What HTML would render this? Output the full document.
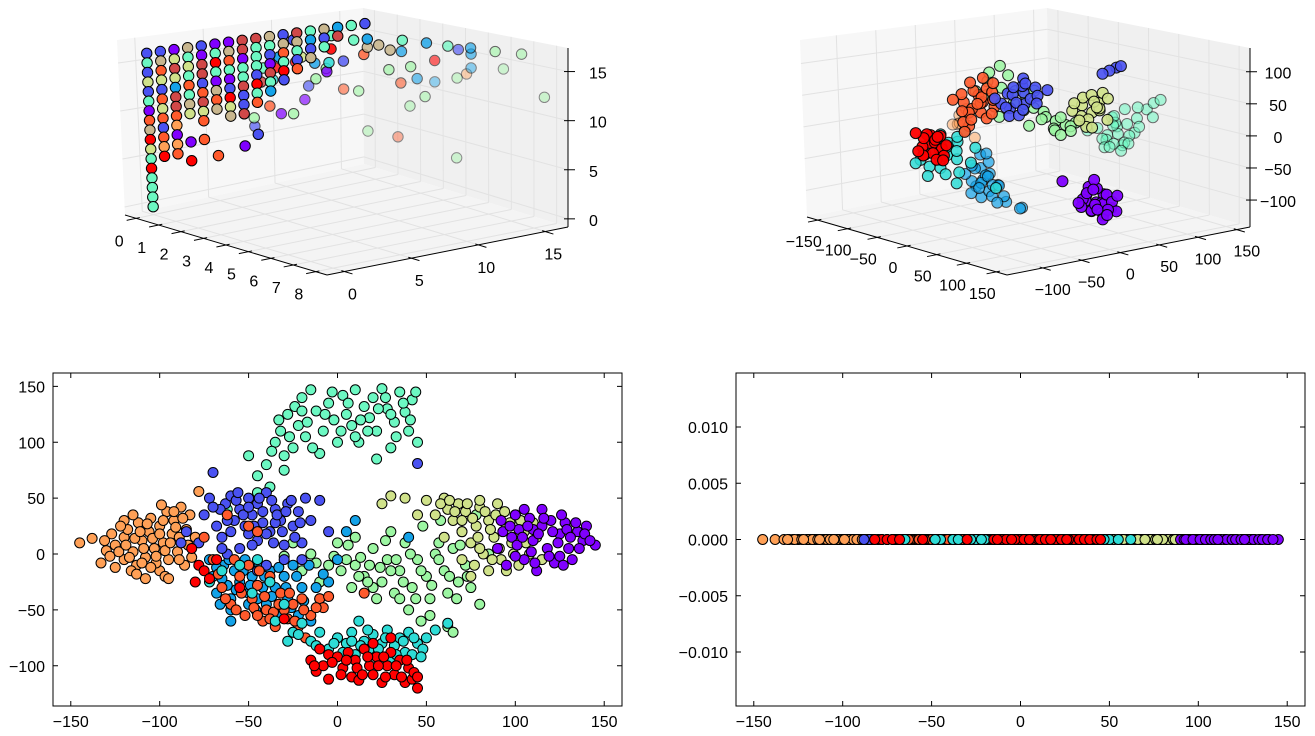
<!DOCTYPE html>
<html><head><meta charset="utf-8"><title>Scatter embeddings</title>
<style>
html,body{margin:0;padding:0;background:#fff;}
svg{display:block;font-family:"Liberation Sans",sans-serif;}
text{font-size:16px;fill:#000;}
</style></head>
<body>
<svg id="fig" width="1315" height="736" viewBox="0 0 1315 736" xmlns="http://www.w3.org/2000/svg">
<rect x="0" y="0" width="1315" height="736" fill="#fff"/>
</svg>
<script>
// ===== palette (style) =====
const palette = ['#8000ff','#4a52f2','#14a2e8','#2edcd6','#6cf8c2','#9cf6a2','#d0e28a','#ffa056','#ff5a2c','#ff0000','#c8b68e','#d04848'];

// ===== bottom-left 2D data (x, y) per cluster =====
const orangePts=[[-145,10],[-138,14],[-130,3],[-128,-2],[-125,8],[-120,15],[-120,-5],[-118,22],[-115,2],[-113,-10],[-112,28],[-110,12],[-108,-3],[-106,20],[-105,32],[-103,5],[-100,-15],[-100,25],[-98,10],[-96,38],[-95,-5],[-93,18],[-92,30],[-90,2],[-88,42],[-86,-10],[-85,22],[-83,35],[-82,-3],[-80,15],[-125,-12],[-116,-15],[-108,-22],[-97,-20],[-133,-8],[-110,-8],[-102,-8],[-115,35],[-95,-22],[-120,30],[-78,56]];
const orangeExtra=[[-127,18],[-123,2],[-119,8],[-117,-3],[-114,14],[-111,20],[-109,5],[-107,27],[-104,14],[-102,-2],[-100,18],[-98,30],[-97,3],[-94,10],[-91,24],[-89,-5],[-87,32],[-84,8],[-122,25],[-131,12],[-113,-18],[-105,-12],[-92,38],[-99,44],[-89,15]];
const bluePts=[[-78,10],[-75,35],[-72,50],[-70,73],[-68,25],[-65,15],[-63,45],[-60,52],[-58,30],[-55,40],[-55,5],[-52,25],[-50,50],[-48,35],[-45,12],[-45,45],[-42,28],[-40,55],[-38,20],[-35,40],[-32,30],[-30,8],[-28,45],[-25,25],[-22,38],[-20,10],[-18,50],[-15,30],[-10,48],[-5,20],[-62,0],[-40,-10],[-30,-5],[45,81],[-85,20],[-50,18],[-35,28],[-45,-15],[-20,-5],[-88,10]];
const blueExtra=[[-66,40],[-62,30],[-60,20],[-57,48],[-53,35],[-50,42],[-47,25],[-44,50],[-42,38],[-40,18],[-37,48],[-34,35],[-31,20],[-29,38],[-26,48],[-24,15],[-21,28],[-56,55],[-48,8],[-36,10],[-65,5],[-70,42]];
const lightBluePts=[[-72,-5],[-70,-20],[-68,-35],[-66,-45],[-64,-10],[-62,-28],[-60,-40],[-58,-15],[-55,-25],[-52,-5],[-50,-35],[-48,-20],[-46,-50],[-44,-10],[-42,-30],[-40,-45],[-38,-15],[-35,-30],[-32,-55],[-30,-20],[-28,-40],[-25,-10],[-22,-55],[-20,-30],[-15,-60],[-10,-40],[-5,-25],[0,-5],[10,30],[5,20],[-60,-60],[40,15],[-25,-70],[-8,-18]];
const lightBlueExtra=[[-68,-12],[-65,-22],[-61,-5],[-57,-32],[-53,-15],[-49,-28],[-45,-40],[-41,-20],[-37,-38],[-33,-12],[-29,-30],[-26,-48],[-23,-20],[-19,-42],[-16,-10],[-12,-30],[-60,-50],[-50,-45]];
const cyanPts=[[-65,-15],[-55,-10],[-45,-5],[-38,-25],[-30,-45],[-25,-70],[-20,-62],[-15,-78],[-10,-70],[-5,-85],[0,-75],[5,-80],[8,-70],[10,-90],[12,-60],[15,-78],[18,-85],[20,-72],[22,-92],[25,-80],[28,-68],[30,-95],[32,-82],[35,-75],[38,-88],[40,-70],[42,-90],[45,-80],[48,-85],[50,-75],[55,-68],[62,-62],[-35,-60],[-48,-35],[-72,-25]];
const cyanExtra=[[-28,-78],[-22,-72],[-12,-82],[-2,-80],[3,-88],[13,-82],[17,-68],[27,-75],[33,-90],[37,-78],[43,-75],[47,-92],[23,-85],[8,-78]];
const mintPts=[[-35,100],[-32,110],[-30,88],[-28,125],[-25,95],[-22,115],[-20,140],[-18,105],[-15,147],[-12,128],[-10,90],[-8,110],[-5,135],[-2,120],[0,100],[3,142],[5,125],[8,115],[10,147],[12,100],[15,132],[18,122],[20,140],[22,110],[25,148],[28,130],[30,95],[32,118],[35,145],[38,127],[40,110],[42,138],[45,100],[-40,80],[-45,70],[-50,88],[-38,60],[-30,75],[22,85],[-45,55],[-62,40]];
const mintExtra=[[-33,120],[-27,105],[-24,132],[-17,118],[-14,95],[-7,125],[-3,145],[2,110],[6,135],[13,120],[17,110],[23,130],[27,140],[33,105],[37,135],[41,120],[44,145],[-20,128],[30,125],[-37,92],[10,105]];
const greenPts=[[-25,10],[-20,-15],[-15,0],[-10,-25],[-5,-10],[0,10],[5,-5],[8,-30],[10,15],[15,-20],[18,-10],[20,5],[22,-40],[25,-25],[28,-5],[30,20],[32,-35],[35,-15],[38,10],[40,-50],[42,-30],[45,-5],[48,25],[50,-20],[52,-40],[55,0],[58,30],[60,-15],[62,-35],[65,5],[68,-25],[70,20],[72,-10],[75,-30],[78,35],[80,-45],[85,0],[62,-65],[65,-70],[10,-10],[20,-30],[-30,-2],[-12,-8]];
const greenExtra=[[2,-15],[6,8],[13,-3],[17,-25],[24,-12],[27,12],[33,-5],[37,-25],[41,0],[44,-40],[47,-15],[53,-28],[57,-5],[63,-20],[67,-40],[69,8],[73,-20],[57,10],[47,-60],[52,-55],[35,-40],[30,-15],[-2,-2],[12,-20]];
const yellowGreenPts=[[25,45],[30,52],[38,50],[50,48],[55,35],[60,50],[62,40],[65,30],[68,45],[70,20],[72,38],[75,10],[78,25],[80,42],[82,0],[85,30],[88,15],[90,45],[92,-5],[95,25],[98,10],[100,35],[102,-10],[105,20],[108,0],[110,28],[115,-5],[75,-20],[85,-15],[95,-15],[60,15],[70,-5],[80,48],[45,35]];
const yellowGreenExtra=[[58,45],[63,48],[66,38],[73,45],[76,32],[79,15],[83,38],[86,22],[89,35],[91,5],[94,38],[97,28],[99,0],[103,30],[106,10],[112,15],[87,-5],[80,5],[70,30],[77,-10]];
const purplePts=[[90,5],[92,30],[95,-10],[98,15],[100,35],[102,22],[105,-5],[108,32],[110,12],[112,-15],[115,25],[118,5],[120,30],[122,-8],[125,18],[128,28],[130,5],[132,-5],[135,20],[138,12],[140,25],[145,8],[105,40],[115,40],[125,-2],[100,-2],[110,22]];
const purpleExtra=[[93,20],[97,25],[101,8],[104,15],[107,25],[109,2],[113,18],[116,32],[119,-2],[121,20],[124,10],[127,-10],[129,22],[131,15],[134,28],[136,5],[139,18],[142,12],[126,35],[111,-8]];
const redOrangePts=[[-75,15],[-70,-5],[-65,-30],[-60,-45],[-58,-5],[-55,-20],[-52,-55],[-50,-10],[-48,-40],[-45,-28],[-42,-60],[-40,-50],[-38,-20],[-35,-65],[-32,-35],[-30,-50],[-28,-58],[-25,-45],[-22,-65],[-20,-40],[-18,-75],[-15,-55],[-10,-40],[-5,-38],[-50,25],[-45,20],[-62,35],[0,-75],[15,-35],[-8,-48]];
const redOrangeExtra=[[-67,-18],[-63,-40],[-57,-50],[-54,-35],[-47,-48],[-44,-15],[-41,-38],[-36,-52],[-33,-45],[-27,-35],[-24,-60],[-19,-50],[-12,-48],[-45,-55],[-38,-58]];
const redPts=[[-80,-25],[-78,-10],[-75,-15],[-72,-22],[-68,-5],[-15,-95],[-12,-105],[-10,-85],[-8,-100],[-5,-90],[0,-92],[3,-102],[6,-88],[8,-110],[10,-95],[12,-113],[15,-85],[18,-100],[20,-108],[22,-92],[25,-115],[28,-100],[30,-88],[32,-108],[35,-95],[38,-115],[40,-102],[42,-112],[45,-120],[20,-80],[30,-75],[-30,-58],[-55,-30],[-82,5]];
const redExtra=[[-13,-100],[-3,-97],[2,-108],[5,-95],[11,-102],[14,-108],[17,-92],[23,-100],[27,-110],[33,-100],[36,-110],[39,-95],[43,-106],[26,-92],[-5,-112],[45,-110]];
// draw order and colour index of each cluster
const blSeries=[mintPts.concat(mintExtra),greenPts.concat(greenExtra),yellowGreenPts.concat(yellowGreenExtra),purplePts.concat(purpleExtra),orangePts.concat(orangeExtra),lightBluePts.concat(lightBlueExtra),bluePts.concat(blueExtra),redOrangePts.concat(redOrangeExtra),cyanPts.concat(cyanExtra),redPts.concat(redExtra)];
const blSeriesColor=[4,5,6,0,7,2,1,8,3,9];
const blXTicks=[-150,-100,-50,0,50,100,150];
const blYTicks=[-100,-50,0,50,100,150];
const brYValue=0;
const brYTicks=[-0.010,-0.005,0.000,0.005,0.010];

// ===== top-left 3D data =====
const tlColY=[0,1,2,3,4,5,6,7,8,9,10,11,12,13,14,15,16];
const tlColZ=[[16,15,14,13,12,11,10,9,8,7,6,5,4,3,2,1,0],[16,15,14,13,12,11,10,9,8,7,6,5],[16,15,14,13,12,11,10,9,8,7,6,5],[16,15,14,13,12,11,10,9,6,4],[16,15,14,13,12,11,10,9,8,6],[16,15,14,13,12,11,10,9,4],[16,15,14,13,12,11,10,9,8],[16,15,14,13,12,11,10,9,8,4.5],[16,15,14,13,12,11,10,9,5.5],[16,15,14,13,12,11,10],[16,15,14,13,12,11],[16,15,14,13,12],[16,15,14,13],[16,15,14],[16,15],[16],[16]];
const tlColC=[[1,4,1,6,1,4,0,8,10,9,6,4,9,4,4,4,4],[1,10,8,6,1,8,6,8,1,8,7,9],[0,6,11,6,2,11,11,8,7,0,7,8],[10,4,6,4,8,4,10,6,0,9],[1,0,11,11,1,8,11,6,8,8],[0,4,9,4,0,10,8,10,8],[0,10,8,4,0,1,9,6,10],[11,11,0,4,4,11,1,1,11,0],[11,4,4,4,1,9,4,8,1],[10,4,1,0,11,4,2],[1,10,8,4,9,1],[11,10,4,1,8],[4,2,1,10],[10,1,4],[2,11],[4],[1]];
const tlDeepX=[8,8.3,6.7,5.9,5,5.8,7.6,8.3,8,8.1,8.3,7.5,8,8,7,6,6,6,5,5,4,3,2,1,0.5,0.5,6,6,5,4,4.5,4,4,3.5,4,3,3,3,3,3.5,3,1,2,4,5,3,5,1.5,2,2,1.5,2.5,1,1.5,2,2.5];
const tlDeepY=[15.8,12.3,16.3,15.7,15.4,14.1,11.1,9.6,9.4,7.6,8.8,6.75,5,2.8,8.7,9.8,8.6,11.1,9.4,11,12,15.5,15.4,14.5,12.7,9.9,5.5,4.4,3.2,1.1,0.3,4,3.1,3.1,5.7,9.4,10.9,5.9,4.4,7.3,4.2,13.5,14.5,15.4,14.5,7.3,3.5,14.5,8,10,11,12,8,6,5,9];
const tlDeepZ=[12.3,16,16,16,16,16,16,16,15.5,15.5,7.9,13,10.6,11.6,13.3,14.4,14.2,16,14.9,14.9,15.8,15.5,15.3,15.1,15.6,15.7,14,14.4,13.1,11.2,10.8,11,11.2,11.7,14.2,14.8,15.2,15.4,15.1,14.7,13.9,15.2,14.4,15.7,16,15,14.4,14.7,15,14,15,15.5,14.5,14,13,13.5];
const tlDeepC=[5,5,5,5,2,2,2,7,5,2,5,5,8,5,5,2,8,9,5,5,2,2,4,2,4,1,5,8,0,5,1,5,0,8,5,1,8,9,9,5,3,4,10,4,1,2,1,10,6,3,9,10,2,4,11,0];
const tlXTicks=[0,1,2,3,4,5,6,7,8];
const tlYTicks=[0,5,10,15];
const tlZTicks=[0,5,10,15];

// ===== top-right 3D data (x, y, z) per cluster =====
const trPurple=[[40,55,-100],[50,60,-110],[60,62,-95],[45,70,-115],[55,50,-120],[65,58,-108],[35,62,-90],[52,72,-100],[48,48,-105],[62,70,-118],[42,60,-125],[58,55,-85],[70,65,-105],[30,58,-110],[55,65,-130],[45,52,-95],[20,40,-80],[60,50,-70],[68,72,-122],[38,50,-118],[35,70,-120],[50,75,-125],[65,50,-115],[75,68,-95],[40,45,-110],[58,62,-135],[48,58,-90],[68,60,-125]];
const trRed=[[-70,-60,-20],[-60,-55,-30],[-55,-65,-15],[-65,-70,-35],[-50,-60,-25],[-75,-55,-10],[-60,-50,-40],[-68,-65,-5],[-52,-70,-30],[-62,-58,-45],[-72,-68,-25],[-58,-62,-12],[-80,-60,-15],[-75,-65,-40],[-65,-50,-10],[-55,-55,-45],[-70,-75,-30],[-62,-45,-25],[-80,-70,-5],[-50,-65,-5]];
const trRedOrange=[[-110,15,20],[-95,25,5],[-105,30,30],[-90,10,15],[-100,20,40],[-115,25,0],[-85,20,25],[-100,5,10],[-108,35,15],[-92,30,-5],[-80,15,35],[-120,20,30],[-98,12,-15],[-88,28,45],[-125,35,45],[-110,40,55],[-95,40,35],[-85,35,15],[-105,10,-10],[-115,5,25],[-90,0,-20],[-80,30,55],[-120,40,10],[-100,45,20],[-85,5,0],[-70,20,10]];
const trCyan=[[-45,-55,-15],[-35,-65,-30],[-50,-60,-40],[-30,-55,-10],[-40,-70,-50],[-55,-50,-25],[-25,-60,-35],[-45,-65,0],[-35,-50,-60],[-60,-55,-45],[-20,-40,-20],[-50,-70,-20],[-30,-45,5],[-65,-65,-55],[0,-30,-80],[-55,-75,-65],[-45,-45,-30],[-70,-45,-30],[-25,-75,-55],[-15,-50,-40],[-60,-80,-40],[-35,-80,-20],[-50,-40,-10],[-75,-75,-50],[-20,-65,-70]];
const trLightBlue=[[-25,-30,-55],[-15,-35,-70],[-20,-40,-80],[-10,-30,-60],[-30,-38,-75],[-18,-25,-45],[-22,-45,-90],[-12,-40,-95],[-28,-28,-35],[-5,-35,-85],[10,-25,-100],[30,-20,-105],[20,-15,-110],[0,-20,-95],[-15,-30,-30],[-30,-20,-70],[-5,-45,-70],[-25,-50,-60],[-10,-20,-80],[-35,-25,-90],[-20,-20,-100],[-15,-45,-50],[0,-40,-60],[-40,-30,-55],[-5,-25,-105],[-25,-15,-85],[5,-30,-75]];
const trBlue=[[-10,-5,60],[5,5,45],[0,-10,40],[-15,5,55],[10,0,65],[-5,10,70],[8,-8,50],[-12,-12,45],[15,5,55],[60,80,100],[55,75,95],[50,70,90],[65,82,103],[-20,0,35],[-20,10,65],[-10,15,80],[0,10,75],[10,15,70],[20,10,60],[5,-15,30],[-5,5,25],[15,-5,40],[25,5,50],[-25,-10,50],[30,15,70]];
const trGreen=[[-40,10,60],[-30,20,55],[-20,10,40],[-10,15,30],[0,20,35],[10,25,30],[20,20,25],[30,25,20],[40,30,15],[50,35,20],[-50,0,70],[-45,-5,50],[20,30,5],[35,40,10],[-25,-5,20],[5,10,10],[45,20,30],[-35,15,80],[-60,10,80],[-55,20,90],[-20,25,50],[0,30,15],[15,35,0],[25,35,-5],[55,25,10],[-5,25,60],[-70,0,50]];
const trYellowGreen=[[35,55,40],[45,60,30],[40,50,25],[50,65,45],[30,60,50],[45,55,20],[55,62,35],[38,65,55],[25,50,30],[48,50,10],[60,58,40],[42,62,5],[50,70,60],[55,55,50],[30,55,15],[65,65,55],[40,70,35],[35,45,45],[60,68,20]];
const trMint=[[60,55,10],[70,60,0],[80,65,15],[90,70,20],[100,75,30],[110,80,45],[75,55,-5],[85,62,5],[65,70,25],[95,60,-10],[105,68,10],[55,65,-10],[80,75,40],[115,85,55],[50,50,5],[90,55,25],[70,68,-15],[100,65,5],[120,90,60],[110,70,20],[95,80,45],[85,70,-10],[75,65,30],[65,60,-20],[105,60,-5],[80,55,-15],[120,80,35],[60,75,10],[90,62,-20]];
const trOrange=[[-75,-20,0],[-85,-10,10],[-70,-15,-10],[-60,-10,-20],[-65,-25,5],[-80,-5,20],[-90,-15,-5]];
const trSeries=[trMint,trOrange,trLightBlue,trGreen,trYellowGreen,trCyan,trRedOrange,trBlue,trRed,trPurple];
const trSeriesColor=[4,7,2,5,6,3,8,1,9,0];
const trSeriesAlpha=[0.55,0.5,0.7,0.85,0.9,0.85,0.9,0.9,0.95,0.95];
const trXTicks=[-150,-100,-50,0,50,100,150];
const trYTicks=[-100,-50,0,50,100,150];
const trZTicks=[-100,-50,0,50,100];

// ===== helpers =====
const NS='http://www.w3.org/2000/svg';
const svg=document.getElementById('fig');
function mk(tag,attrs,parent){const e=document.createElementNS(NS,tag);for(const k in attrs)e.setAttribute(k,attrs[k]);(parent||svg).appendChild(e);return e;}
function fmt(v,d){const s=Math.abs(v).toFixed(d);return (v<0?'\u2212':'')+s;}

// ===== 2D axes =====
function axes2D(name,x0,y0,w,h,xr,yr,xticks,yticks,ydec){
  const g=mk('g',{});
  
  
  const sx=v=>x0+(v-xr[0])/(xr[1]-xr[0])*w;
  const sy=v=>y0+h-(v-yr[0])/(yr[1]-yr[0])*h;
  const pts=mk('g',{},g);
  
  
  const frame=mk('rect',{x:x0,y:y0,width:w,height:h,fill:'none',stroke:'#000','stroke-width':1},g);
  
  
  xticks.forEach(t=>{
    const X=sx(t);
    const tk=mk('path',{d:`M${X},${y0+h}v-5M${X},${y0}v5`,stroke:'#000','stroke-width':1},g);
    
    
    const tx=mk('text',{x:X,y:y0+h+21,'text-anchor':'middle'},g);
    
    
    tx.textContent=fmt(t,0);
  });
  yticks.forEach(t=>{
    const Y=sy(t);
    const tk=mk('path',{d:`M${x0},${Y}h5M${x0+w},${Y}h-5`,stroke:'#000','stroke-width':1},g);
    
    
    const tx=mk('text',{x:x0-8,y:Y+6,'text-anchor':'end'},g);
    
    
    tx.textContent=fmt(t,ydec);
  });
  return {sx,sy,pts};
}
const BL=axes2D('scatter-2d-plot',53,373,569,333,[-160,160],[-136,162],blXTicks,blYTicks,0);
const BR=axes2D('scatter-1d-plot',736,373,569,333,[-160,160],[-0.0148,0.0148],blXTicks,brYTicks,3);
blSeries.forEach((ser,i)=>{
  ser.forEach(p=>{
    const c=mk('circle',{cx:BL.sx(p[0]),cy:BL.sy(p[1]),r:5,fill:palette[blSeriesColor[i]],stroke:'#000','stroke-width':1},BL.pts);
    
    
  });
});
blSeries.forEach((ser,i)=>{
  ser.forEach(p=>{
    const c=mk('circle',{cx:BR.sx(p[0]),cy:BR.sy(brYValue),r:5,fill:palette[blSeriesColor[i]],stroke:'#000','stroke-width':1},BR.pts);
    
    
  });
});

// ===== 3D axes =====
function axes3D(name,C,R,xt,yt,zt,opt){
  const g=mk('g',{});
  
  
  function P(x,y,z){
    const s=(x-R.x[0])/(R.x[1]-R.x[0]), t=(y-R.y[0])/(R.y[1]-R.y[0]), w=(z-R.z[0])/(R.z[1]-R.z[0]);
    const bl=(a,b,c,d,k)=>a[k]*(1-s)*(1-t)+b[k]*s*(1-t)+c[k]*(1-s)*t+d[k]*s*t;
    const bx=bl(C.Lb,C.Fb,C.Bb,C.Rb,0), by=bl(C.Lb,C.Fb,C.Bb,C.Rb,1);
    const tx=bl(C.Lt,C.Ft,C.Bt,C.Rt,0), ty=bl(C.Lt,C.Ft,C.Bt,C.Rt,1);
    return [bx*(1-w)+tx*w, by*(1-w)+ty*w];
  }
  const [x0,x1]=R.x,[y0,y1]=R.y,[z0,z1]=R.z;
  const poly=(pts,fill,nm)=>{const p=mk('polygon',{points:pts.map(q=>q.join(',')).join(' '),fill:fill},g);};
  poly([P(x0,y0,z0),P(x0,y1,z0),P(x0,y1,z1),P(x0,y0,z1)],'#f7f7f7','left-pane');
  poly([P(x0,y1,z0),P(x1,y1,z0),P(x1,y1,z1),P(x0,y1,z1)],'#f0f0f0','right-pane');
  poly([P(x0,y0,z0),P(x1,y0,z0),P(x1,y1,z0),P(x0,y1,z0)],'#f4f4f4','floor-pane');
  const line=(a,b,st,sw,nm)=>{const l=mk('line',{x1:a[0],y1:a[1],x2:b[0],y2:b[1],stroke:st,'stroke-width':sw},g);};
  xt.forEach(v=>{line(P(v,y0,z0),P(v,y1,z0),'#e2e2e2',1,'grid-line');line(P(v,y1,z0),P(v,y1,z1),'#e2e2e2',1,'grid-line');});
  yt.forEach(v=>{line(P(x0,v,z0),P(x1,v,z0),'#e2e2e2',1,'grid-line');line(P(x0,v,z0),P(x0,v,z1),'#e2e2e2',1,'grid-line');});
  zt.forEach(v=>{line(P(x0,y0,v),P(x0,y1,v),'#e2e2e2',1,'grid-line');line(P(x0,y1,v),P(x1,y1,v),'#e2e2e2',1,'grid-line');});
  line(P(x0,y0,z0),P(x1,y0,z0),'#000',1,'x-axis-line');
  line(P(x1,y0,z0),P(x1,y1,z0),'#000',1,'y-axis-line');
  line(P(x1,y1,z0),P(x1,y1,z1),'#000',1,'z-axis-line');
  const xs=(x1-x0),ys=(y1-y0);
  xt.forEach(v=>{
    line(P(v,y0-0.04*ys,z0),P(v,y0+0.015*ys,z0),'#000',1,'x-tick');
    const p=P(v,y0,z0);
    const t=mk('text',{x:p[0]+opt.xo[0],y:p[1]+opt.xo[1],'text-anchor':'middle'},g);
    
    
    t.textContent=fmt(v,0);
  });
  yt.forEach(v=>{
    line(P(x1+0.04*xs,v,z0),P(x1-0.015*xs,v,z0),'#000',1,'y-tick');
    const p=P(x1,v,z0);
    const t=mk('text',{x:p[0]+opt.yo[0],y:p[1]+opt.yo[1],'text-anchor':'middle'},g);
    
    
    t.textContent=fmt(v,0);
  });
  zt.forEach(v=>{
    const p=P(x1,y1,v);
    line([p[0]-4,p[1]],[p[0]+7,p[1]],'#000',1,'z-tick');
    const t=mk('text',{x:opt.zx,y:p[1]+7,'text-anchor':opt.za},g);
    
    
    t.textContent=fmt(v,0);
  });
  const pts=mk('g',{},g);
  
  
  return {P,pts};
}

// top-left
const TL=axes3D('grid-3d-plot',
  {Lb:[125,215],Fb:[327,275],Bb:[364,164],Rb:[568,227],Lt:[117,40],Ft:[322,80],Bt:[363,8],Rt:[568,48]},
  {x:[-0.5,8.5],y:[-1.3,16.7],z:[-0.83,17.4]},tlXTicks,tlYTicks,tlZTicks,{xo:[-17,28],yo:[8,28],zx:589,za:'start'});
const tlPoints=[];
tlColY.forEach((y,i)=>{tlColZ[i].forEach((z,j)=>{tlPoints.push([0,y,z,tlColC[i][j]]);});});
tlDeepX.forEach((x,i)=>{tlPoints.push([x,tlDeepY[i],tlDeepZ[i],tlDeepC[i]]);});
tlPoints.sort((a,b)=>b[0]-a[0]);
tlPoints.forEach(p=>{
  const q=TL.P(p[0],p[1],p[2]);
  const al=Math.max(0.4,1-0.6*p[0]/8.5);
  const c=mk('circle',{cx:q[0],cy:q[1],r:5.2,fill:palette[p[3]],stroke:'#000','stroke-width':1,opacity:al},TL.pts);
  
  
});

// top-right
const TR=axes3D('embedding-3d-plot',
  {Lb:[807,217],Fb:[1007,275],Bb:[1049,168],Rb:[1250,227],Lt:[800,40],Ft:[1003,80],Bt:[1047,8],Rt:[1250,48]},
  {x:[-168,168],y:[-146,167],z:[-142,137]},trXTicks,trYTicks,trZTicks,{xo:[-14,27],yo:[10,27],zx:1278,za:'middle'});
trSeries.forEach((ser,i)=>{
  ser.forEach(p=>{
    const q=TR.P(p[0],p[1],p[2]);
    const c=mk('circle',{cx:q[0],cy:q[1],r:5.5,fill:palette[trSeriesColor[i]],stroke:'#000','stroke-width':1,opacity:trSeriesAlpha[i]},TR.pts);
    
    
  });
});
</script>
</body></html>
